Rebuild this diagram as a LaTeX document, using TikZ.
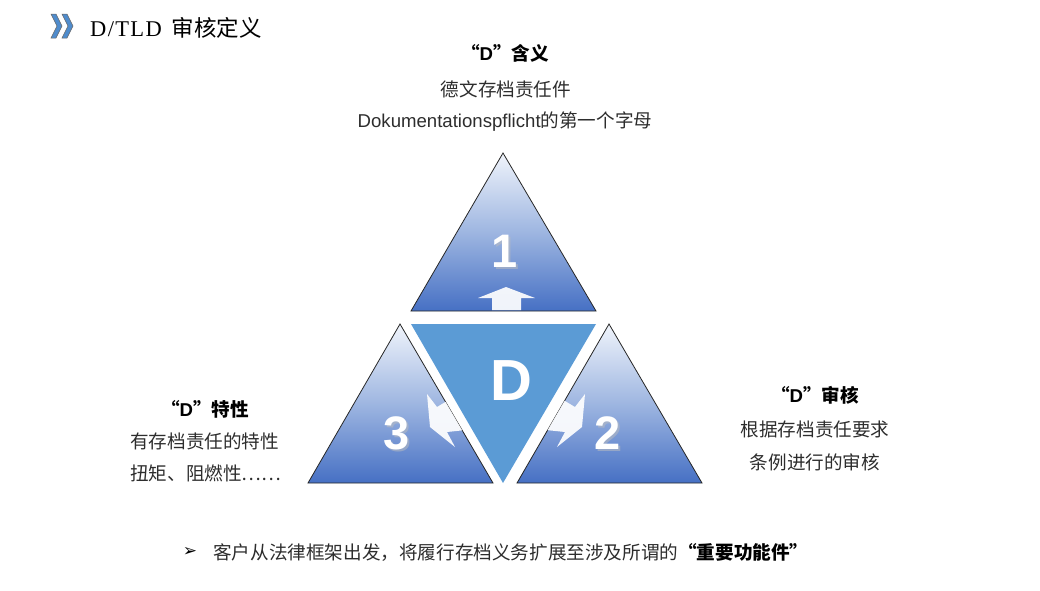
\documentclass[tikz,border=0pt]{standalone}
\usepackage{fontspec}
\setmainfont{Liberation Sans}
\newfontfamily\cjk{Noto Sans CJK SC}
\newfontfamily\serifl[LetterSpace=6]{Liberation Serif}
\newfontfamily\dejavu{DejaVu Sans}
\definecolor{dblue}{RGB}{91,155,213}
\definecolor{tlight}{RGB}{240,244,251}
\definecolor{tdark}{RGB}{70,112,196}
\definecolor{txt}{RGB}{45,45,45}
\definecolor{chev}{RGB}{79,140,205}
\begin{document}
\begin{tikzpicture}[x=1pt,y=-1pt,
  tri/.style={draw=black!85,line width=0.8pt,top color=tlight,bottom color=tdark,middle color={rgb,255:red,158;green,182;blue,225}},
  body/.style={inner sep=0pt,text=txt,font=\cjk\fontsize{18.6}{22}\selectfont},
  head/.style={inner sep=0pt,text=black,font=\fontsize{18.6}{22}\selectfont\bfseries},
  num/.style={inner sep=0pt,text=white,font=\fontsize{47}{50}\selectfont\bfseries},
  warrow/.style={fill=white,opacity=0.92}]
\useasboundingbox (0,0) rectangle (1040,590);
% header icon
\foreach \dx/\nm in {0/a,11/b}{
  \draw[fill=chev,draw=black!60,line width=0.5pt,xshift=\dx pt]
    (51,14) -- (56,14) -- (62,26) -- (56,38) -- (51,38) -- (57,26) -- cycle;
}
\node[anchor=west,inner sep=0pt,text=black] (title) at (90,28)
  {\fontsize{22.5}{24}\selectfont{\serifl D/TLD}\hspace{10pt}{\cjk 审核定义}};
% triangles
\path[tri] (503,153) -- (596,311) -- (411,311) -- cycle;
\path[tri] (400,324) -- (493,483) -- (308,483) -- cycle;
\path[tri] (609,324) -- (702,483) -- (517,483) -- cycle;
\fill[dblue] (411,324) -- (596,324) -- (503,483) -- cycle;
% arrows
\fill[warrow] (492,310) -- (492,298) -- (478,298) -- (506,287) -- (535,298) -- (521,298) -- (521,310) -- cycle;
\begin{scope}
  \clip (400,324) -- (493,483) -- (308,483) -- cycle;
  \fill[warrow] (427,394) -- (437,407) -- (452,398) -- (466,430) -- (447,432) -- (455,447) -- (430,427) -- cycle;
\end{scope}
\begin{scope}
  \clip (609,324) -- (702,483) -- (517,483) -- cycle;
  \fill[warrow] (585,394) -- (575,407) -- (560,398) -- (546,430) -- (565,432) -- (557,447) -- (582,427) -- cycle;
\end{scope}
% numbers
\node[num,text=black!25,opacity=0.5] at (507,253) {1};
\node[num] (n1) at (505,251) {1};
\node[num,text=black!25,opacity=0.5] at (399,435) {3};
\node[num] (n3) at (397,433) {3};
\node[num,text=black!25,opacity=0.5] at (610,435) {2};
\node[num] (n2) at (608,433) {2};
\node[num,font=\fontsize{58}{60}\selectfont\bfseries] (nD) at (511,381) {D};
% top texts
\node[head] (t1) at (505,53) {{\cjk “}D{\cjk ”含义}};
\node[body] (t2) at (506,89) {德文存档责任件};
\node[body] (t3) at (505,122) {{\rmfamily Dokumentationspflicht}的第一个字母};
% left texts
\node[head] (l1) at (205,409) {{\cjk “}D{\cjk ”特性}};
\node[body,anchor=west] (l2) at (130,441) {有存档责任的特性};
\node[body,anchor=west] (l3) at (130,473) {扭矩、阻燃性……};
% right texts
\node[head] (r1) at (815,395) {{\cjk “}D{\cjk ”审核}};
\node[body] (r2) at (815,429) {根据存档责任要求};
\node[body] (r3) at (815,462) {条例进行的审核};
% bottom
\node[inner sep=0pt,text=black,font=\dejavu\fontsize{17}{19}\selectfont] (bul) at (190,552) {➢};
\node[body,anchor=west] (bt) at (213,552) {客户从法律框架出发，将履行存档义务扩展至涉及所谓的{\bfseries\color{black}“重要功能件”}};
\end{tikzpicture}
\end{document}
